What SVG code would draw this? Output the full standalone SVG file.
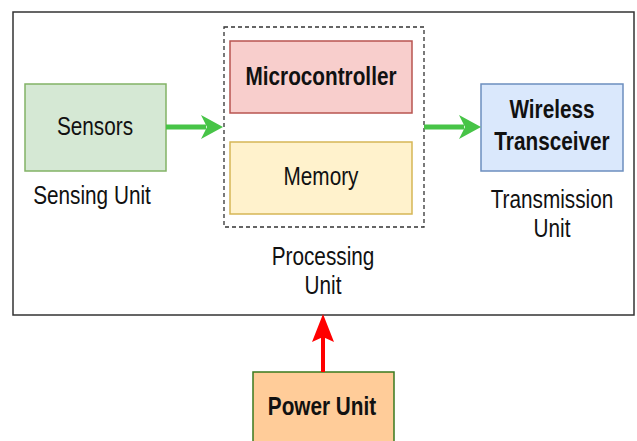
<svg xmlns="http://www.w3.org/2000/svg" width="637" height="441" viewBox="0 0 637 441">
  <style>
    .lbl { font-family: "Liberation Sans", Arial, sans-serif; font-size: 25px; fill: #111; text-anchor: middle; }
    .b { font-weight: bold; }
    .box { stroke-width: 1.5; }
  </style>
  <rect width="637" height="441" fill="#ffffff"/>

  <!-- sensor node container -->
  <g id="node-frame">
    <rect x="13" y="12" width="621" height="303" fill="#ffffff" stroke="#333333" stroke-width="1.5"/>
  </g>

  <g id="processing-unit">
    <rect x="224" y="27" width="200" height="200" fill="none" stroke="#333333" stroke-width="1.3" stroke-dasharray="4 3"/>
    <text class="lbl" transform="translate(323,265) scale(0.83,1)">Processing</text>
    <text class="lbl" transform="translate(323,294) scale(0.83,1)">Unit</text>
  </g>

  <g id="microcontroller">
    <rect class="box" x="230" y="41" width="182" height="72" fill="#f8cecc" stroke="#b85450"/>
    <text class="lbl b" transform="translate(321,85) scale(0.83,1)">Microcontroller</text>
  </g>

  <g id="memory">
    <rect class="box" x="230" y="142" width="182" height="72" fill="#fff2cc" stroke="#d6b656"/>
    <text class="lbl" transform="translate(321,185) scale(0.83,1)">Memory</text>
  </g>

  <g id="sensors">
    <rect class="box" x="25" y="84" width="141" height="87" fill="#d5e8d4" stroke="#82b366"/>
    <text class="lbl" transform="translate(95,135) scale(0.83,1)">Sensors</text>
    <text class="lbl" transform="translate(92,204) scale(0.83,1)">Sensing Unit</text>
  </g>

  <g id="wireless-transceiver">
    <rect class="box" x="481" y="84" width="142" height="87" fill="#dae8fc" stroke="#6c8ebf"/>
    <text class="lbl b" transform="translate(552,118) scale(0.83,1)">Wireless</text>
    <text class="lbl b" transform="translate(552,150) scale(0.83,1)">Transceiver</text>
    <text class="lbl" transform="translate(552,208) scale(0.83,1)">Transmission</text>
    <text class="lbl" transform="translate(552,237) scale(0.83,1)">Unit</text>
  </g>

  <g id="power-unit">
    <rect class="box" x="253" y="372" width="141" height="80" fill="#ffcc99" stroke="#3a7a1e"/>
    <text class="lbl b" transform="translate(322,415) scale(0.83,1)">Power Unit</text>
  </g>

  <!-- connectors -->
  <g id="connectors">
    <line x1="166" y1="127" x2="206" y2="127" stroke="#47c447" stroke-width="5"/>
    <polygon points="223,127 201,115 207,127 201,139" fill="#47c447"/>
    <line x1="424" y1="127" x2="464" y2="127" stroke="#47c447" stroke-width="5"/>
    <polygon points="481,127 459,115 465,127 459,139" fill="#47c447"/>
    <line x1="323" y1="372" x2="323" y2="336" stroke="#ff0000" stroke-width="4"/>
    <polygon points="323,314 312,342 323,337 334,342" fill="#ff0000"/>
  </g>
</svg>
